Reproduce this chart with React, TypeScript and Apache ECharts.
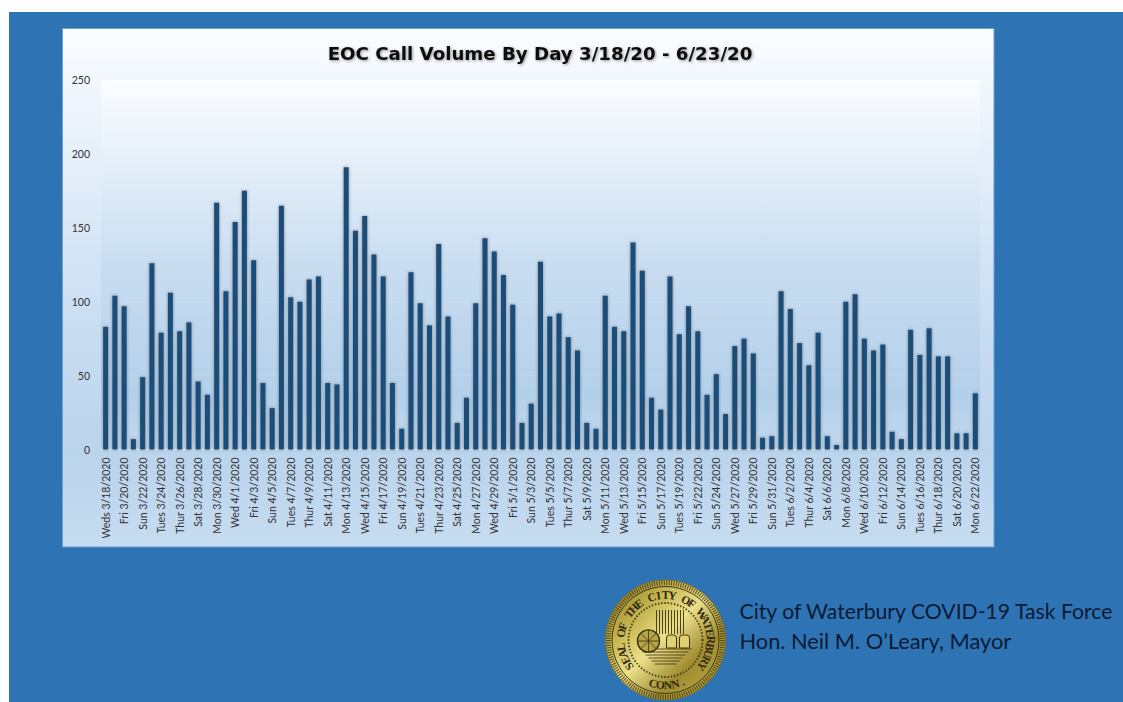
import React, { useEffect, useRef } from "react";
import * as echarts from "echarts";

const titleText = "EOC Call Volume By Day 3/18/20 - 6/23/20";
const footerLines = ["City of Waterbury COVID-19 Task Force", "Hon. Neil M. O\u2019Leary, Mayor"];
const footerSizes = [21.2, 21.8];
const sealTop = "SEAL OF THE CITY OF WATERBURY";
const sealBottom = "CONN.";

const categories = [
  "Weds 3/18/2020", "Thur 3/19/2020", "Fri 3/20/2020", "Sat 3/21/2020", "Sun 3/22/2020", "Mon 3/23/2020",
  "Tues 3/24/2020", "Wed 3/25/2020", "Thur 3/26/2020", "Fri 3/27/2020", "Sat 3/28/2020", "Sun 3/29/2020",
  "Mon 3/30/2020", "Tues 3/31/2020", "Wed 4/1/2020", "Thur 4/2/2020", "Fri 4/3/2020", "Sat 4/4/2020",
  "Sun 4/5/2020", "Mon 4/6/2020", "Tues 4/7/2020", "Wed 4/8/2020", "Thur 4/9/2020", "Fri 4/10/2020",
  "Sat 4/11/2020", "Sun 4/12/2020", "Mon 4/13/2020", "Tues 4/14/2020", "Wed 4/15/2020", "Thur 4/16/2020",
  "Fri 4/17/2020", "Sat 4/18/2020", "Sun 4/19/2020", "Mon 4/20/2020", "Tues 4/21/2020", "Wed 4/22/2020",
  "Thur 4/23/2020", "Fri 4/24/2020", "Sat 4/25/2020", "Sun 4/26/2020", "Mon 4/27/2020", "Tues 4/28/2020",
  "Wed 4/29/2020", "Thur 4/30/2020", "Fri 5/1/2020", "Sat 5/2/2020", "Sun 5/3/2020", "Mon 5/4/2020",
  "Tues 5/5/2020", "Wed 5/6/2020", "Thur 5/7/2020", "Fri 5/8/2020", "Sat 5/9/2020", "Sun 5/10/2020",
  "Mon 5/11/2020", "Tues 5/12/2020", "Wed 5/13/2020", "Thur 5/14/2020", "Fri 5/15/2020", "Sat 5/16/2020",
  "Sun 5/17/2020", "Mon 5/18/2020", "Tues 5/19/2020", "Thur 5/21/2020", "Fri 5/22/2020", "Sat 5/23/2020",
  "Sun 5/24/2020", "Tues 5/26/2020", "Wed 5/27/2020", "Thur 5/28/2020", "Fri 5/29/2020", "Sat 5/30/2020",
  "Sun 5/31/2020", "Mon 6/1/2020", "Tues 6/2/2020", "Wed 6/3/2020", "Thur 6/4/2020", "Fri 6/5/2020",
  "Sat 6/6/2020", "Sun 6/7/2020", "Mon 6/8/2020", "Tues 6/9/2020", "Wed 6/10/2020", "Thur 6/11/2020",
  "Fri 6/12/2020", "Sat 6/13/2020", "Sun 6/14/2020", "Mon 6/15/2020", "Tues 6/16/2020", "Wed 6/17/2020",
  "Thur 6/18/2020", "Fri 6/19/2020", "Sat 6/20/2020", "Sun 6/21/2020", "Mon 6/22/2020",
];

const callVolume = [
  83, 104, 97, 7, 49, 126, 79, 106, 80, 86, 46, 37, 167, 107, 154, 175, 128, 45, 28, 165,
  103, 100, 115, 117, 45, 44, 191, 148, 158, 132, 117, 45, 14, 120, 99, 84, 139, 90, 18, 35,
  99, 143, 134, 118, 98, 18, 31, 127, 90, 92, 76, 67, 18, 14, 104, 83, 80, 140, 121, 35,
  27, 117, 78, 97, 80, 37, 51, 24, 70, 75, 65, 8, 9, 107, 95, 72, 57, 79, 9, 3,
  100, 105, 75, 67, 71, 12, 7, 81, 64, 82, 63, 63, 11, 11, 38,
];

const yTicks = { min: 0, max: 250, interval: 50 };

const SEAL = { cx: 665.5, cy: 640, r: 60 };

function arcText(text: string, radius: number, startDeg: number, stepDeg: number, flip: boolean, size: number) {
  return text.split("").map((ch, i) => {
    const deg = startDeg + i * stepDeg;
    const a = (deg * Math.PI) / 180;
    return {
      type: "text",
      z: 12,
      x: SEAL.cx + radius * Math.sin(a),
      y: SEAL.cy - radius * Math.cos(a),
      rotation: flip ? -a + Math.PI : -a,
      style: {
        text: ch,
        fill: "#2f280c",
        font: `bold ${size}px "Liberation Serif"`,
        align: "center",
        verticalAlign: "middle",
      },
    };
  });
}

function sealElements() {
  const { cx, cy, r } = SEAL;
  const gold = new echarts.graphic.LinearGradient(0, 0, 1, 1, [
    { offset: 0, color: "#7d6c22" },
    { offset: 0.28, color: "#c4b44e" },
    { offset: 0.48, color: "#ece08a" },
    { offset: 0.7, color: "#a08c30" },
    { offset: 1, color: "#c2b04a" },
  ]);
  const ringLine = (rad: number, w: number, color: string, dash?: number[]) => ({
    type: "circle",
    z: 11,
    shape: { cx, cy, r: rad },
    style: { fill: "none", stroke: color, lineWidth: w, lineDash: dash },
  });
  const ln = (x1: number, y1: number, x2: number, y2: number, w = 1) => ({
    type: "line",
    z: 12,
    shape: { x1: cx + x1, y1: cy + y1, x2: cx + x2, y2: cy + y2 },
    style: { stroke: "#3d3410", lineWidth: w },
  });
  const box = (x: number, y: number, w: number, h: number) => ({
    type: "rect",
    z: 12,
    shape: { x: cx + x, y: cy + y, width: w, height: h, r: [3, 3, 0, 0] },
    style: { fill: "#e0d070", stroke: "#3d3410", lineWidth: 1 },
  });
  const chimney = [-9, -6, -3, 0, 3, 6, 9, 12, 15, 18].map((x) => ln(x, -30, x, -6, 0.9));
  const ground = [9, 12, 15, 18, 21, 24].map((y) => ln(-26 + (y - 9), y, 26 - (y - 9), y, 0.8));
  const spokes = [0, 45, 90, 135].map((d) => {
    const a = (d * Math.PI) / 180;
    return ln(-17 - 11 * Math.cos(a), 1 - 11 * Math.sin(a), -17 + 11 * Math.cos(a), 1 + 11 * Math.sin(a), 0.8);
  });
  return [
    { type: "circle", z: 10, shape: { cx, cy, r }, style: { fill: gold, stroke: "#7d6c22", lineWidth: 1 } },
    ringLine(57, 4.5, "#4f4415", [1, 1.4]),
    ringLine(53.5, 1, "#3d3410"),
    ringLine(37, 1.8, "#3d3410", [1.4, 1.8]),
    ...chimney,
    ...ground,
    { type: "circle", z: 12, shape: { cx: cx - 17, cy: cy + 1, r: 11 }, style: { fill: "#b5a344", stroke: "#2f280c", lineWidth: 1.4 } },
    ...spokes,
    box(1, -5, 10, 13),
    box(14, -5, 10, 13),
    ...arcText(sealTop, 45, -126, 9, false, 11.5),
    ...arcText(sealBottom, 45, 196, -9.6, true, 11.5),
  ];
}

export default function App() {
  const ref = useRef<HTMLDivElement>(null);
  useEffect(() => {
    const chart = echarts.init(ref.current!, undefined, { renderer: "svg" });
    const linear = (stops: [number, string][]) =>
      new echarts.graphic.LinearGradient(0, 0, 0, 1, stops.map(([offset, color]) => ({ offset, color })));
    chart.setOption({
      animation: false,
      backgroundColor: "#ffffff",
      title: {
        text: titleText,
        left: 535,
        top: 39,
        textAlign: "center",
        textStyle: {
          fontFamily: "DejaVu Sans",
          fontWeight: 700,
          fontSize: 18.2,
          color: "#0d0d0d",
          textShadowColor: "rgba(0,0,0,0.4)",
          textShadowBlur: 3,
          textShadowOffsetX: 1,
          textShadowOffsetY: 1,
        },
      },
      grid: {
        left: 101,
        top: 80,
        width: 879,
        height: 369.5,
        show: true,
        borderWidth: 0,
        backgroundColor: linear([
          [0, "#fbfdff"],
          [0.5, "#c9ddf1"],
          [0.85, "#b3d0ea"],
          [1, "#bfd7ee"],
        ]),
      },
      xAxis: {
        type: "category",
        data: categories,
        axisTick: { show: false },
        axisLine: { lineStyle: { color: "#dfe8f2", width: 1 } },
        axisLabel: {
          interval: 1,
          rotate: 90,
          margin: 8,
          fontFamily: "Lato",
          fontSize: 10.5,
          color: "#333333",
        },
      },
      yAxis: {
        type: "value",
        min: yTicks.min,
        max: yTicks.max,
        interval: yTicks.interval,
        axisLine: { show: false },
        axisTick: { show: false },
        splitLine: { lineStyle: { color: "rgba(255,255,255,0.1)", width: 1 } },
        axisLabel: { margin: 11, fontFamily: "Lato", fontSize: 10.5, color: "#333333" },
      },
      series: [
        {
          type: "bar",
          data: callVolume,
          barWidth: "54%",
          itemStyle: {
            color: "#1f4e79",
            shadowColor: "rgba(40,40,40,0.5)",
            shadowBlur: 3,
          },
        },
      ],
      graphic: {
        elements: [
          { type: "rect", z: -20, shape: { x: 9, y: 12, width: 1114, height: 690 }, style: { fill: "#2e74b5" } },
          {
            type: "rect",
            z: -10,
            shape: { x: 62.5, y: 28.5, width: 931.5, height: 518.5 },
            style: {
              fill: linear([
                [0, "#fbfdff"],
                [0.55, "#cbdef2"],
                [0.82, "#bad4ec"],
                [1, "#c6dcf0"],
              ]),
              stroke: "#6c9fd3",
              lineWidth: 1,
            },
          },
          ...sealElements(),
          ...footerLines.map((t, i) => ({
            type: "text",
            z: 10,
            x: 739.5,
            y: 611 + i * 29,
            style: { text: t, fill: "#0a1a33", font: `${footerSizes[i]}px "Lato"`, align: "left", verticalAlign: "middle" },
          })),
        ],
      },
    });
    return () => chart.dispose();
  }, []);
  return <div ref={ref} style={{ position: "absolute", left: 0, top: 0, width: 1123, height: 702 }} />;
}
